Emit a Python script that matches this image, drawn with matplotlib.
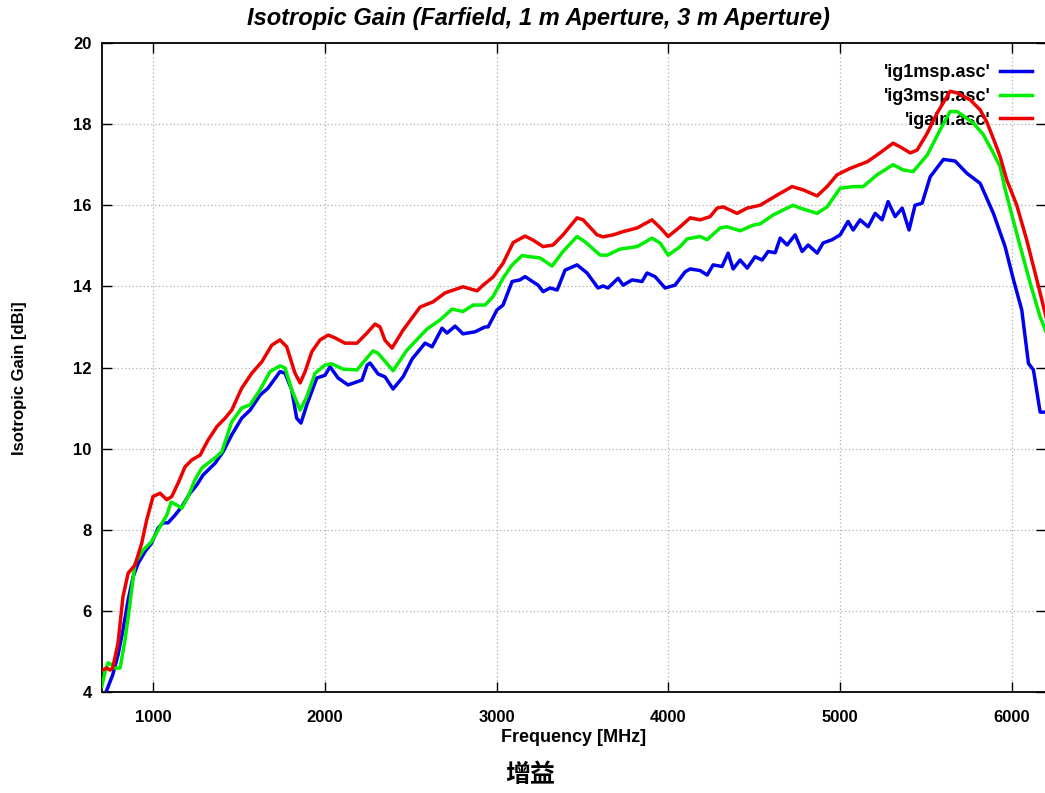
import matplotlib
matplotlib.use("Agg")
import matplotlib.pyplot as plt


# 'igain.asc' (farfield)
igain_freq = [700, 730, 750, 765, 796, 825, 855, 895, 934, 963, 1000, 1041, 1080, 1109,
              1146, 1186, 1225, 1274, 1320, 1371, 1419, 1458, 1516, 1575, 1633, 1691,
              1739, 1778, 1826, 1856, 1885, 1924, 1972, 2019, 2059, 2117, 2187, 2245,
              2292, 2321, 2350, 2391, 2455, 2554, 2630, 2700, 2804, 2886, 2921, 2979,
              3037, 3096, 3165, 3212, 3270, 3328, 3386, 3468, 3503, 3584, 3619, 3678,
              3736, 3817, 3904, 3951, 3998, 4068, 4126, 4184, 4242, 4283, 4318, 4399,
              4458, 4533, 4632, 4719, 4783, 4865, 4923, 4981, 5057, 5156, 5214, 5307,
              5348, 5407, 5447, 5505, 5563, 5639, 5680, 5756, 5814, 5853, 5901, 5930,
              5969, 6027, 6085, 6144, 6200]
igain_db = [4.53, 4.59, 4.54, 4.59, 5.2, 6.35, 6.93, 7.13, 7.67, 8.24, 8.82, 8.9, 8.74, 8.82,
            9.15, 9.55, 9.72, 9.84, 10.21, 10.54, 10.75, 10.95, 11.49, 11.86, 12.14, 12.55,
            12.68, 12.51, 11.86, 11.62, 11.9, 12.39, 12.68, 12.8, 12.73, 12.6, 12.6, 12.85,
            13.07, 13.0, 12.67, 12.48, 12.92, 13.49, 13.62, 13.84, 13.99, 13.89, 14.03, 14.23,
            14.57, 15.08, 15.24, 15.14, 14.98, 15.02, 15.27, 15.69, 15.64, 15.27, 15.22, 15.27,
            15.35, 15.44, 15.64, 15.45, 15.23, 15.47, 15.69, 15.64, 15.72, 15.93, 15.96, 15.8,
            15.93, 16.0, 16.25, 16.46, 16.38, 16.23, 16.46, 16.75, 16.91, 17.07, 17.24, 17.53,
            17.44, 17.29, 17.36, 17.77, 18.27, 18.81, 18.77, 18.6, 18.35, 18.05, 17.53, 17.2,
            16.62, 16.0, 15.14, 14.16, 13.2]

# 'ig3msp.asc' (3 m aperture)
ig3_freq = [701, 721, 738, 760, 777, 808, 837, 866, 895, 942, 992, 1041, 1080, 1105, 1138,
            1167, 1204, 1244, 1284, 1320, 1361, 1400, 1458, 1516, 1565, 1623, 1681, 1739,
            1768, 1807, 1856, 1895, 1943, 2001, 2040, 2106, 2187, 2234, 2280, 2310, 2397,
            2478, 2595, 2670, 2740, 2804, 2863, 2932, 2979, 3037, 3090, 3148, 3194, 3253,
            3322, 3386, 3468, 3514, 3602, 3643, 3718, 3817, 3904, 3951, 3998, 4068, 4108,
            4184, 4225, 4300, 4341, 4417, 4493, 4533, 4609, 4690, 4725, 4766, 4865, 4923,
            4999, 5075, 5133, 5214, 5307, 5366, 5424, 5506, 5581, 5639, 5680, 5773, 5831,
            5889, 5930, 5959, 6027, 6105, 6163, 6200]
ig3_db = [4.13, 4.5, 4.72, 4.67, 4.59, 4.59, 5.28, 6.19, 7.17, 7.5, 7.71, 8.08, 8.36, 8.68, 8.61,
          8.53, 8.82, 9.23, 9.52, 9.64, 9.77, 9.92, 10.66, 11.0, 11.08, 11.45, 11.9, 12.04,
          11.99, 11.45, 10.95, 11.28, 11.86, 12.06, 12.09, 11.96, 11.94, 12.18, 12.41, 12.35, 11.92,
          12.43, 12.95, 13.17, 13.44, 13.38, 13.54, 13.54, 13.75, 14.2, 14.53, 14.76, 14.73, 14.7,
          14.5, 14.86, 15.23, 15.1, 14.77, 14.77, 14.92, 14.98, 15.19, 15.07, 14.77, 14.98, 15.17,
          15.23, 15.15, 15.44, 15.47, 15.37, 15.51, 15.54, 15.76, 15.93, 16.0, 15.93, 15.8, 15.96,
          16.42, 16.46, 16.46, 16.75, 17.0, 16.87, 16.83, 17.24, 17.86, 18.31, 18.31, 18.03, 17.75,
          17.3, 16.95, 16.4, 15.3, 14.08, 13.25, 12.85]

# 'ig1msp.asc' (1 m aperture)
ig1_freq = [731, 765, 796, 825, 855, 884, 913, 953, 992, 1029, 1058, 1087, 1128, 1167, 1215,
            1254, 1291, 1332, 1361, 1407, 1458, 1516, 1565, 1623, 1669, 1739, 1768, 1807,
            1836, 1861, 1895, 1953, 2001, 2030, 2077, 2135, 2216, 2246, 2263, 2310, 2350,
            2397, 2455, 2508, 2583, 2624, 2682, 2711, 2758, 2804, 2874, 2932, 2950, 3002,
            3037, 3090, 3136, 3165, 3194, 3241, 3270, 3311, 3352, 3398, 3468, 3526, 3590,
            3619, 3648, 3707, 3736, 3788, 3846, 3875, 3922, 3980, 4038, 4097, 4126, 4184,
            4225, 4260, 4312, 4347, 4376, 4417, 4458, 4504, 4545, 4580, 4621, 4650, 4690,
            4737, 4778, 4813, 4865, 4900, 4952, 4999, 5045, 5075, 5115, 5162, 5203, 5243,
            5278, 5319, 5360, 5400, 5435, 5476, 5523, 5600, 5668, 5736, 5814, 5891, 5959,
            6008, 6056, 6095, 6124, 6163, 6200]
ig1_db = [4.05, 4.42, 4.91, 5.53, 6.27, 6.84, 7.17, 7.46, 7.67, 8.04, 8.17, 8.17, 8.36, 8.57, 8.9,
          9.1, 9.35, 9.52, 9.64, 9.92, 10.34, 10.75, 10.95, 11.32, 11.49, 11.9, 11.86, 11.45,
          10.75, 10.63, 11.08, 11.74, 11.81, 12.02, 11.74, 11.57, 11.69, 12.06, 12.11, 11.84, 11.77,
          11.47, 11.77, 12.21, 12.6, 12.51, 12.97, 12.85, 13.02, 12.83, 12.88, 13.0, 13.0, 13.42,
          13.54, 14.12, 14.16, 14.24, 14.16, 14.03, 13.87, 13.96, 13.91, 14.4, 14.53, 14.33, 13.96,
          14.01, 13.96, 14.2, 14.03, 14.16, 14.12, 14.33, 14.24, 13.96, 14.03, 14.36, 14.43, 14.39,
          14.28, 14.53, 14.49, 14.82, 14.43, 14.65, 14.45, 14.73, 14.65, 14.86, 14.83, 15.19, 15.02,
          15.27, 14.86, 15.02, 14.82, 15.07, 15.15, 15.27, 15.6, 15.39, 15.64, 15.47, 15.8, 15.64,
          16.09, 15.72, 15.93, 15.39, 16.0, 16.05, 16.7, 17.13, 17.09, 16.79, 16.54, 15.8, 14.98,
          14.16, 13.42, 12.1, 11.94, 10.9, 10.9]

x_ticks = [1000, 2000, 3000, 4000, 5000, 6000]
y_ticks = [4, 6, 8, 10, 12, 14, 16, 18, 20]

W, H = 1045, 793
AX_L, AX_W = 101.5, 945
fig = plt.figure(figsize=(W / 100, H / 100), dpi=100)
ax = fig.add_axes([AX_L / W, (H - 692) / H, AX_W / W, 649 / H])

ax.plot(ig1_freq, ig1_db, color="#0000ee", lw=2.5, label="'ig1msp.asc'", zorder=3)
ax.plot(ig3_freq, ig3_db, color="#00ee00", lw=2.5, label="'ig3msp.asc'", zorder=3)
ax.plot(igain_freq, igain_db, color="#ee0000", lw=2.5, label="'igain.asc'", zorder=3)

ax.set_xlim(700, 6200)
ax.set_ylim(4, 20)
ax.set_xticks(x_ticks)
ax.set_yticks(y_ticks)
ax.grid(True, color="#b0b0b0", linestyle=(0, (1, 2)), linewidth=0.9)
ax.tick_params(direction="in", length=7, width=1, top=True, right=True,
               labelsize=12)
ax.tick_params(axis="x", pad=13)
ax.tick_params(axis="y", pad=7)
for lab in ax.get_xticklabels() + ax.get_yticklabels():
    lab.set_fontweight("bold")
    lab.set_family("Liberation Sans")
for sp in ax.spines.values():
    sp.set_linewidth(1.3)

ax.set_xlabel("Frequency [MHz]", fontsize=13, fontweight="bold",
              family="Liberation Sans", labelpad=3)
ax.set_ylabel("Isotropic Gain [dBi]", fontsize=12, fontweight="bold",
              family="Liberation Sans")
ax.yaxis.set_label_coords((27 - AX_L) / AX_W, (692 - 378) / 649)

fig.text(538 / W, 1 - 18 / H, "Isotropic Gain (Farfield, 1 m Aperture, 3 m Aperture)",
         ha="center", va="center", fontsize=17, fontweight="bold", style="italic",
         family=["Liberation Sans Narrow", "Liberation Sans"])

leg = ax.legend(loc="upper right",
                bbox_to_anchor=((1032 - AX_L) / AX_W, (692 - 64) / 649),
                frameon=False, markerfirst=False, handlelength=1.75,
                handletextpad=0.55, labelspacing=0.38, borderaxespad=0, borderpad=0,
                prop={"family": "Liberation Sans", "weight": "bold", "size": 13})
for t in leg.get_texts():
    t.set_ha("right")
leg.set_zorder(2)

fig.text(530 / W, 1 - 775 / H, "增益", ha="center", va="center", fontsize=18,
         fontweight="bold", family=["Noto Sans CJK SC", "DejaVu Sans"])

fig.savefig("out.png", dpi=100)
